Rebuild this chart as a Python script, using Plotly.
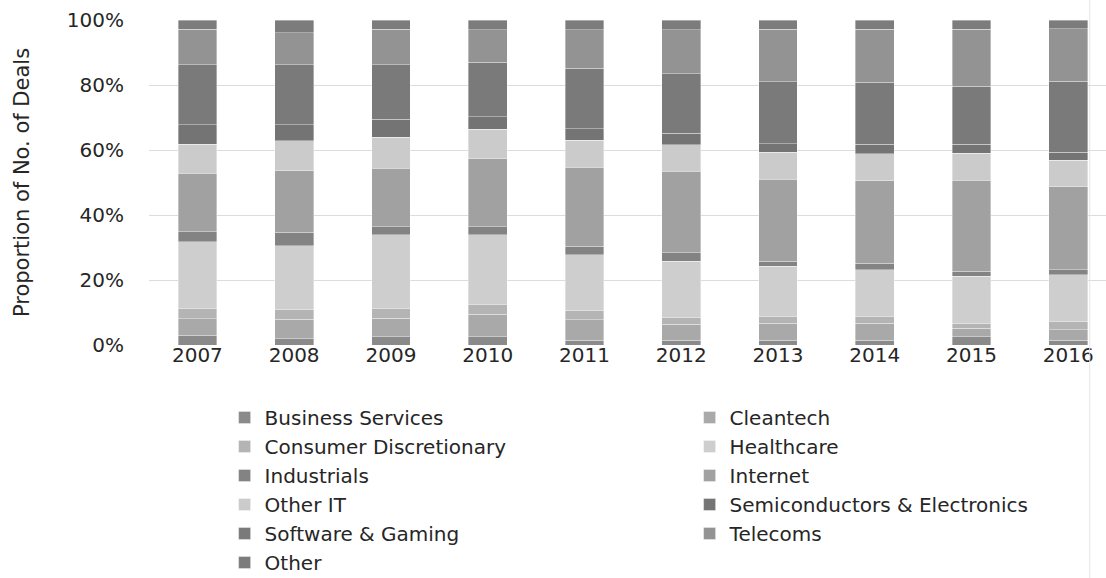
import plotly.graph_objects as go

years = ["2007", "2008", "2009", "2010", "2011", "2012", "2013", "2014", "2015", "2016"]

business_services = [3.0, 2.0, 2.5, 2.5, 1.5, 1.5, 1.5, 1.5, 2.6, 1.5]
cleantech = [5.1, 6.0, 5.7, 7.0, 6.2, 4.8, 5.2, 5.2, 2.6, 3.2]
consumer_discretionary = [3.1, 3.0, 3.0, 3.0, 3.0, 2.0, 2.0, 2.0, 1.5, 2.5]
healthcare = [20.6, 19.6, 22.7, 21.5, 17.0, 17.3, 15.5, 14.4, 14.4, 14.4]
industrials = [3.1, 4.1, 2.5, 2.5, 2.5, 2.6, 1.5, 2.1, 1.5, 1.5]
internet = [18.0, 18.9, 18.0, 21.1, 24.2, 25.0, 25.2, 25.4, 28.0, 25.4]
other_it = [8.9, 9.3, 9.5, 9.1, 8.3, 8.2, 8.3, 8.3, 8.3, 8.1]
semiconductors = [6.0, 4.9, 5.5, 3.8, 3.6, 3.5, 2.7, 2.9, 2.7, 2.5]
software_gaming = [18.5, 18.5, 16.9, 16.9, 18.5, 18.3, 19.0, 19.0, 17.8, 21.7]
telecoms = [10.9, 9.8, 10.9, 10.0, 11.8, 13.4, 16.2, 16.4, 17.5, 16.1]
other = [2.8, 3.9, 2.8, 3.0, 3.0, 3.0, 2.8, 2.8, 2.9, 2.7]

y_ticks = [0, 20, 40, 60, 80, 100]
y_tick_labels = ["0%", "20%", "40%", "60%", "80%", "100%"]

series = [
    ("Business Services", business_services, "#8a8a8a"),
    ("Cleantech", cleantech, "#a9a9a9"),
    ("Consumer Discretionary", consumer_discretionary, "#b4b4b4"),
    ("Healthcare", healthcare, "#cecece"),
    ("Industrials", industrials, "#838383"),
    ("Internet", internet, "#a1a1a1"),
    ("Other IT", other_it, "#cbcbcb"),
    ("Semiconductors & Electronics", semiconductors, "#747474"),
    ("Software & Gaming", software_gaming, "#7a7a7a"),
    ("Telecoms", telecoms, "#939393"),
    ("Other", other, "#7c7c7c"),
]

FONT = "DejaVu Sans"
TXT = "#262626"

fig = go.Figure()
for name, vals, col in series:
    fig.add_trace(go.Bar(
        x=years, y=vals, name=name,
        marker=dict(color=col, line=dict(color="rgba(255,255,255,0.6)", width=0.6)),
    ))

fig.update_layout(
    width=1106, height=578,
    barmode="stack", barnorm="percent", bargap=0.6,
    plot_bgcolor="white", paper_bgcolor="white",
    margin=dict(l=149, r=0, t=20, b=233, autoexpand=False),
    font=dict(family=FONT, color=TXT, size=19),
    xaxis=dict(
        range=[-0.5, 9.39], showgrid=False, showline=False, ticks="",
        tickfont=dict(size=20, color=TXT), ticklabelstandoff=-4,
    ),
    yaxis=dict(
        range=[0, 100], tickvals=y_ticks, ticktext=y_tick_labels,
        showgrid=True, gridcolor="#dcdcdc", gridwidth=1, zeroline=False,
        showline=False, ticks="", tickfont=dict(size=20, color=TXT),
        ticklabelstandoff=24,
        title=dict(text="Proportion of No. of Deals", font=dict(size=21, color=TXT), standoff=31),
    ),
    legend=dict(
        orientation="h", x=0.079, xanchor="left", y=-0.163, yanchor="top",
        entrywidth=420, entrywidthmode="pixels",
        font=dict(size=20, color=TXT), itemwidth=30,
        traceorder="normal", bgcolor="rgba(0,0,0,0)",
    ),
    shapes=[dict(type="line", xref="paper", yref="paper", x0=0.983, x1=0.983,
                 y0=-0.75, y1=1.1, line=dict(color="#e6e6e6", width=1))],
)

fig.write_html("out.html")
